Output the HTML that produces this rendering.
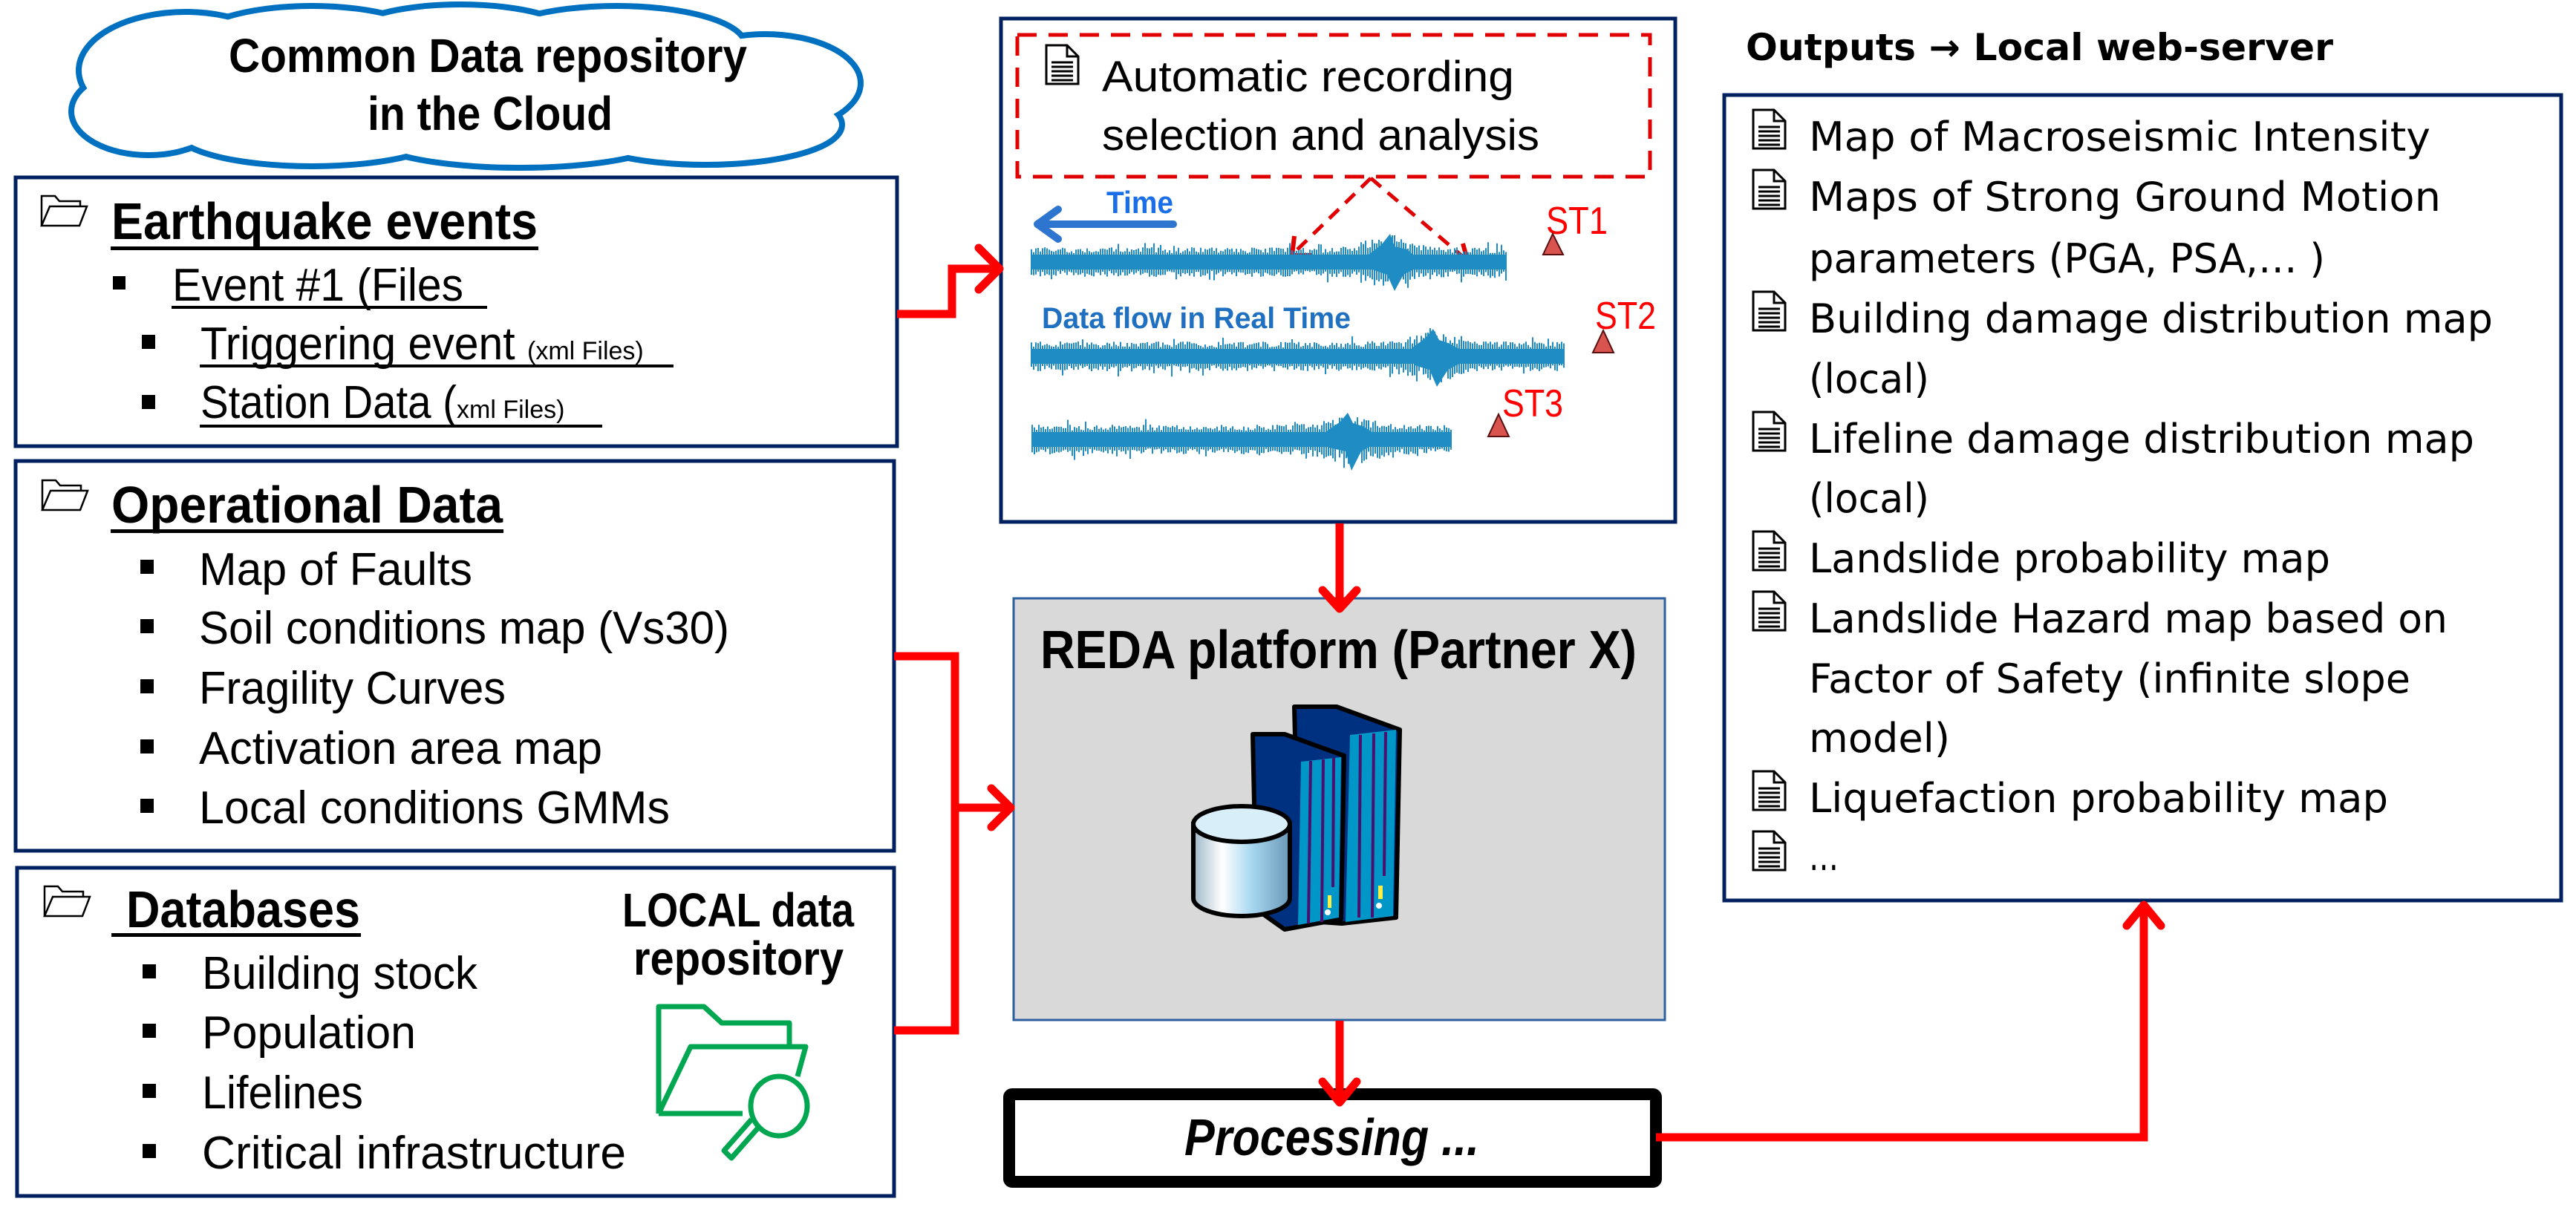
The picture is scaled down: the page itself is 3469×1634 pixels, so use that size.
<!DOCTYPE html>
<html><head><meta charset="utf-8">
<style>
html,body{margin:0;padding:0;background:#fff;}
svg{display:block;}
.c{font-family:"Liberation Sans Narrow","Liberation Sans",sans-serif;}
.v{font-family:"DejaVu Sans","Liberation Sans",sans-serif;}
</style></head><body>
<svg width="3469" height="1634" viewBox="0 0 3469 1634" xmlns="http://www.w3.org/2000/svg">
<defs>
  <g id="doc">
    <path d="M0,0 H28 L43,15 V52 H0 Z" fill="#fff" stroke="#000" stroke-width="3"/>
    <path d="M28,0 V15 H43" fill="none" stroke="#000" stroke-width="3"/>
    <path d="M7,23 H36 M7,29 H36 M7,35 H36 M7,41 H36 M7,47 H36" stroke="#000" stroke-width="3"/>
  </g>
  <g id="fold">
    <path d="M2,42 L2,2 L20,2 L26,9 L54,9 L54,16" fill="none" stroke="#000" stroke-width="2.5"/>
    <path d="M2,42 L13,16 L63,16 L53,42 Z" fill="#fff" stroke="#000" stroke-width="2.5"/>
  </g>
  <linearGradient id="cyl" x1="0" x2="1" y1="0" y2="0">
    <stop offset="0" stop-color="#9fb8c8"/>
    <stop offset="0.3" stop-color="#ffffff"/>
    <stop offset="0.6" stop-color="#a8d8f0"/>
    <stop offset="1" stop-color="#6a98b8"/>
  </linearGradient>
</defs>

<!-- Cloud -->
<g fill="none" stroke="#0070c0" stroke-width="16">
  <ellipse cx="250" cy="95" rx="140" ry="75"/>
  <ellipse cx="200" cy="150" rx="100" ry="55"/>
  <ellipse cx="420" cy="62" rx="160" ry="50"/>
  <ellipse cx="620" cy="52" rx="150" ry="42"/>
  <ellipse cx="830" cy="62" rx="170" ry="50"/>
  <ellipse cx="1030" cy="112" rx="125" ry="62"/>
  <ellipse cx="950" cy="168" rx="180" ry="50"/>
  <ellipse cx="700" cy="180" rx="200" ry="42"/>
  <ellipse cx="420" cy="175" rx="180" ry="45"/>
</g>
<g fill="#fff">
  <ellipse cx="250" cy="95" rx="140" ry="75"/>
  <ellipse cx="200" cy="150" rx="100" ry="55"/>
  <ellipse cx="420" cy="62" rx="160" ry="50"/>
  <ellipse cx="620" cy="52" rx="150" ry="42"/>
  <ellipse cx="830" cy="62" rx="170" ry="50"/>
  <ellipse cx="1030" cy="112" rx="125" ry="62"/>
  <ellipse cx="950" cy="168" rx="180" ry="50"/>
  <ellipse cx="700" cy="180" rx="200" ry="42"/>
  <ellipse cx="420" cy="175" rx="180" ry="45"/>
  <ellipse cx="626" cy="118" rx="430" ry="75"/>
</g>
<text class="c" x="308" y="97" font-size="64" font-weight="bold" textLength="698" lengthAdjust="spacingAndGlyphs">Common Data repository</text>
<text class="c" x="495" y="175" font-size="64" font-weight="bold" textLength="330" lengthAdjust="spacingAndGlyphs">in the Cloud</text>

<!-- Earthquake events box -->
<rect x="21" y="239" width="1187" height="362" fill="#fff" stroke="#002060" stroke-width="5"/>
<use href="#fold" x="54" y="262"/>
<text class="c" x="150" y="322" font-size="70" font-weight="bold" textLength="574" lengthAdjust="spacingAndGlyphs">Earthquake events</text>
<rect x="149" y="332" width="576" height="5"/>
<rect x="152" y="372" width="17" height="18"/>
<text class="c" x="232" y="405" font-size="62" textLength="392" lengthAdjust="spacingAndGlyphs">Event #1 (Files</text>
<rect x="231" y="412" width="425" height="4"/>
<rect x="191" y="451" width="18" height="19"/>
<text class="c" x="270" y="484" font-size="62"><tspan textLength="440" lengthAdjust="spacingAndGlyphs">Triggering event </tspan><tspan font-size="34">(xml Files)</tspan></text>
<rect x="269" y="491" width="638" height="4"/>
<rect x="191" y="532" width="18" height="19"/>
<text class="c" x="270" y="563" font-size="62"><tspan textLength="345" lengthAdjust="spacingAndGlyphs">Station Data (</tspan><tspan font-size="34">xml Files)</tspan></text>
<rect x="269" y="572" width="542" height="4"/>

<!-- Operational Data box -->
<rect x="21" y="621" width="1183" height="525" fill="#fff" stroke="#002060" stroke-width="5"/>
<use href="#fold" x="55" y="645"/>
<text class="c" x="150" y="704" font-size="70" font-weight="bold" textLength="527" lengthAdjust="spacingAndGlyphs">Operational Data</text>
<rect x="149" y="713" width="529" height="5"/>
<g class="c" font-size="62">
  <rect x="189" y="754" width="18" height="19"/>
  <text x="268" y="788" textLength="368" lengthAdjust="spacingAndGlyphs">Map of Faults</text>
  <rect x="189" y="834" width="18" height="19"/>
  <text x="268" y="867" textLength="714" lengthAdjust="spacingAndGlyphs">Soil conditions map (Vs30)</text>
  <rect x="189" y="915" width="18" height="19"/>
  <text x="268" y="948" textLength="413" lengthAdjust="spacingAndGlyphs">Fragility Curves</text>
  <rect x="189" y="996" width="18" height="19"/>
  <text x="268" y="1029" textLength="543" lengthAdjust="spacingAndGlyphs">Activation area map</text>
  <rect x="189" y="1076" width="18" height="19"/>
  <text x="268" y="1109" textLength="634" lengthAdjust="spacingAndGlyphs">Local conditions GMMs</text>
</g>

<!-- Databases box -->
<rect x="23" y="1169" width="1181" height="442" fill="#fff" stroke="#002060" stroke-width="5"/>
<use href="#fold" x="58" y="1192"/>
<text class="c" x="170" y="1249" font-size="70" font-weight="bold" textLength="315" lengthAdjust="spacingAndGlyphs">Databases</text>
<rect x="150" y="1257" width="336" height="5"/>
<g class="c" font-size="62">
  <rect x="192" y="1299" width="18" height="19"/>
  <text x="272" y="1332" textLength="371" lengthAdjust="spacingAndGlyphs">Building stock</text>
  <rect x="192" y="1379" width="18" height="19"/>
  <text x="272" y="1412" textLength="288" lengthAdjust="spacingAndGlyphs">Population</text>
  <rect x="192" y="1460" width="18" height="19"/>
  <text x="272" y="1493" textLength="217" lengthAdjust="spacingAndGlyphs">Lifelines</text>
  <rect x="192" y="1541" width="18" height="19"/>
  <text x="272" y="1574" textLength="571" lengthAdjust="spacingAndGlyphs">Critical infrastructure</text>
</g>
<text class="c" x="838" y="1248" font-size="64" font-weight="bold" textLength="312" lengthAdjust="spacingAndGlyphs">LOCAL data</text>
<text class="c" x="853" y="1313" font-size="64" font-weight="bold" textLength="283" lengthAdjust="spacingAndGlyphs">repository</text>
<g fill="none" stroke="#00a650" stroke-width="7" stroke-linejoin="round">
  <path d="M887,1500 L887,1356 L948,1356 L972,1378 L1063,1378 L1063,1410"/>
  <path d="M887,1500 L930,1410 L1085,1410 L1074,1450"/>
  <path d="M887,1500 L1000,1500"/>
  <ellipse cx="1049" cy="1490" rx="38" ry="40"/>
  <path d="M1022,1518 L985,1560 L975,1550 L1012,1508"/>
</g>

<!-- Top center box -->
<rect x="1348" y="25" width="908" height="678" fill="#fff" stroke="#002060" stroke-width="5"/>
<rect x="1370" y="47" width="852" height="191" fill="none" stroke="#e00000" stroke-width="5" stroke-dasharray="26,16"/>
<use href="#doc" x="1409" y="61"/>
<text x="1484" y="123" font-family="Liberation Sans, sans-serif" font-size="58" textLength="555" lengthAdjust="spacingAndGlyphs">Automatic recording</text>
<text x="1484" y="202" font-family="Liberation Sans, sans-serif" font-size="58" textLength="589" lengthAdjust="spacingAndGlyphs">selection and analysis</text>
<g fill="none" stroke="#e00000" stroke-width="5" stroke-dasharray="18,12">
  <path d="M1846,240 L1741,342"/>
  <path d="M1846,240 L1975,350"/>
</g>
<g fill="none" stroke="#e00000" stroke-width="6">
  <path d="M1743,318 L1740,344 L1766,344"/>
  <path d="M1950,354 L1977,354 L1970,328"/>
</g>
<path d="M1580,302 L1400,302 M1425,282 L1397,302 L1425,322" fill="none" stroke="#2e75d0" stroke-width="10" stroke-linecap="round" stroke-linejoin="round"/>
<text class="c" x="1490" y="287" font-size="42" font-weight="bold" fill="#1a6ee8" textLength="90" lengthAdjust="spacingAndGlyphs">Time</text>
<!-- waveforms -->
<g id="waves" fill="#1f8cc4">
  <rect x="1389" y="343" width="640" height="20"/>
  <polygon points="1840,345 1860,330 1872,315 1878,332 1895,336 1905,345 1905,362 1890,370 1878,392 1868,370 1845,362"/>
  <rect x="1389" y="470" width="718" height="20"/>
  <polygon points="1900,470 1920,455 1930,443 1938,458 1950,462 1965,470 1965,490 1950,498 1935,521 1925,498 1905,492"/>
  <rect x="1390" y="582" width="565" height="20"/>
  <polygon points="1785,582 1805,568 1815,556 1822,570 1835,574 1848,582 1848,600 1833,608 1820,634 1812,608 1790,603"/>
</g>
<g id="noise" stroke="#1f8cc4" stroke-width="2"></g>
<script>
(function(){
  var g=document.getElementById('noise');var s=12345;
  function r(){s=(s*1103515245+12345)%2147483648;return s/2147483648;}
  var rows=[[1389,2029,353,1874],[1389,2107,480,1932],[1390,1955,592,1819]];
  var d='';
  rows.forEach(function(w){
    for(var x=w[0];x<=w[1];x+=3){
      var near=Math.exp(-Math.pow((x-w[3])/40,2));
      var a=12+r()*8+near*20*r();var b=12+r()*8+near*20*r();
      if(r()<0.05)a+=8;if(r()<0.05)b+=8;
      d+='M'+x+','+(w[2]-a).toFixed(1)+'V'+(w[2]+b).toFixed(1);
    }
  });
  var p=document.createElementNS('http://www.w3.org/2000/svg','path');
  p.setAttribute('d',d);g.appendChild(p);
})();
</script>
<text class="c" x="1403" y="442" font-size="40" font-weight="bold" fill="#1f70c1" textLength="416" lengthAdjust="spacingAndGlyphs">Data flow in Real Time</text>
<g font-family="Liberation Sans, sans-serif" font-size="52" fill="#ff0000">
  <text x="2082" y="315" textLength="83" lengthAdjust="spacingAndGlyphs">ST1</text>
  <text x="2148" y="443" textLength="82" lengthAdjust="spacingAndGlyphs">ST2</text>
  <text x="2023" y="561" textLength="82" lengthAdjust="spacingAndGlyphs">ST3</text>
</g>
<g fill="#d9534f" stroke="#5a1010" stroke-width="2">
  <polygon points="2091,315 2078,343 2105,343"/>
  <polygon points="2159,445 2145,475 2173,475"/>
  <polygon points="2018,558 2004,588 2032,588"/>
</g>

<!-- REDA box -->
<rect x="1365" y="806" width="877" height="568" fill="#d9d9d9" stroke="#2e5f9e" stroke-width="3"/>
<text class="c" x="1401" y="900" font-size="72" font-weight="bold" textLength="803" lengthAdjust="spacingAndGlyphs">REDA platform (Partner X)</text>
<g stroke="#000" stroke-width="6" stroke-linejoin="round">
  <path d="M1743,952 L1800,952 L1885,983 L1880,1236 L1807,1244 L1750,1240 Z" fill="#003080"/>
  <path d="M1818,990 L1880,983 L1876,1234 L1812,1242 Z" fill="#0097c8" stroke-width="0"/>
  <path d="M1687,989 L1730,989 L1810,1018 L1806,1238 L1730,1252 L1692,1225 Z" fill="#003080"/>
  <path d="M1752,1026 L1806,1020 L1803,1236 L1748,1246 Z" fill="#0097c8" stroke-width="0"/>
</g>
<g stroke="#4a1070" stroke-width="4">
  <path d="M1832,990 L1830,1236 M1850,988 L1848,1236 M1866,986 L1864,1180"/>
  <path d="M1765,1025 L1762,1244 M1782,1023 L1780,1242 M1796,1021 L1795,1195"/>
</g>
<g fill="#ffee44"><rect x="1856" y="1193" width="6" height="18"/><rect x="1788" y="1206" width="5" height="17"/></g>
<g fill="#fff"><circle cx="1857" cy="1220" r="4"/><circle cx="1788" cy="1229" r="4"/></g>
<g stroke="#000" stroke-width="6">
  <path d="M1607,1110 L1607,1210 A65,24 0 0 0 1737,1210 L1737,1110 Z" fill="url(#cyl)"/>
  <ellipse cx="1672" cy="1110" rx="65" ry="24" fill="#d8eef8"/>
</g>

<!-- Processing box -->
<rect x="1359" y="1474" width="871" height="118" rx="4" fill="#fff" stroke="#000" stroke-width="16"/>
<text x="1595" y="1556" font-family="Liberation Sans Narrow, Liberation Sans, sans-serif" font-size="70" font-weight="bold" font-style="italic" textLength="397" lengthAdjust="spacingAndGlyphs">Processing ...</text>

<!-- Right output box -->
<text class="v" x="2351" y="81" font-size="50" font-weight="bold" textLength="791" lengthAdjust="spacingAndGlyphs">Outputs → Local web-server</text>
<rect x="2322" y="128" width="1127" height="1085" fill="#fff" stroke="#002060" stroke-width="5"/>
<g>
  <use href="#doc" x="2361" y="148"/>
  <use href="#doc" x="2361" y="229"/>
  <use href="#doc" x="2361" y="393"/>
  <use href="#doc" x="2361" y="555"/>
  <use href="#doc" x="2361" y="716"/>
  <use href="#doc" x="2361" y="797"/>
  <use href="#doc" x="2361" y="1039"/>
  <use href="#doc" x="2361" y="1120"/>
</g>
<g class="v" font-size="54">
  <text x="2436" y="203" textLength="837" lengthAdjust="spacingAndGlyphs">Map of Macroseismic Intensity</text>
  <text x="2436" y="284" textLength="851" lengthAdjust="spacingAndGlyphs">Maps of Strong Ground Motion</text>
  <text x="2436" y="367" textLength="695" lengthAdjust="spacingAndGlyphs">parameters (PGA, PSA,… )</text>
  <text x="2436" y="448" textLength="921" lengthAdjust="spacingAndGlyphs">Building damage distribution map</text>
  <text x="2436" y="529" textLength="162" lengthAdjust="spacingAndGlyphs">(local)</text>
  <text x="2436" y="610" textLength="896" lengthAdjust="spacingAndGlyphs">Lifeline damage distribution map</text>
  <text x="2436" y="690" textLength="162" lengthAdjust="spacingAndGlyphs">(local)</text>
  <text x="2436" y="771" textLength="702" lengthAdjust="spacingAndGlyphs">Landslide probability map</text>
  <text x="2436" y="852" textLength="860" lengthAdjust="spacingAndGlyphs">Landslide Hazard map based on</text>
  <text x="2436" y="933" textLength="810" lengthAdjust="spacingAndGlyphs">Factor of Safety (infinite slope</text>
  <text x="2436" y="1013" textLength="190" lengthAdjust="spacingAndGlyphs">model)</text>
  <text x="2436" y="1094" textLength="780" lengthAdjust="spacingAndGlyphs">Liquefaction probability map</text>
  <text x="2436" y="1172" textLength="40" lengthAdjust="spacingAndGlyphs">…</text>
</g>

<!-- Red connectors -->
<g fill="none" stroke="#ff0000" stroke-width="11" stroke-linejoin="miter" stroke-linecap="butt">
  <path d="M1208,423 L1282,423 L1282,362 L1345,362"/>
  <path d="M1204,884 L1286,884 L1286,1388 L1204,1388"/>
  <path d="M1286,1088 L1360,1088"/>
  <path d="M1804,705 L1804,815"/>
  <path d="M1804,1375 L1804,1485"/>
  <path d="M2230,1532 L2887,1532 L2887,1222"/>
</g>
<g fill="none" stroke="#ff0000" stroke-width="11" stroke-linecap="round" stroke-linejoin="round">
  <path d="M1318,334 L1346,362 L1318,390"/>
  <path d="M1335,1062 L1361,1088 L1335,1114"/>
  <path d="M1781,795 L1804,820 L1827,795"/>
  <path d="M1781,1457 L1804,1485 L1827,1457"/>
  <path d="M2864,1247 L2887,1219 L2910,1247"/>
</g>
</svg>
</body></html>
